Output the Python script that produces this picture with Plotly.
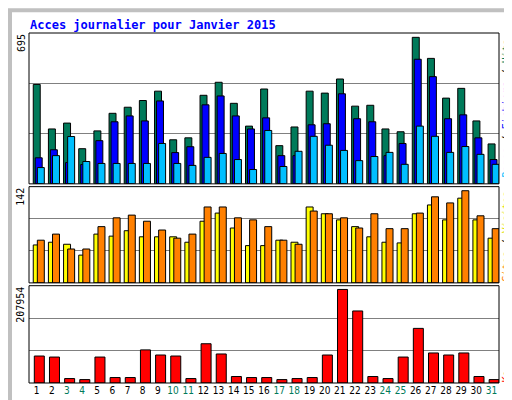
import plotly.graph_objects as go

days = list(range(1, 32))
weekend = {3, 4, 10, 11, 17, 18, 24, 25, 31}

hits = [458, 253, 280, 162, 244, 325, 353, 384, 427, 203, 212, 408, 468, 371, 266, 437,
        176, 262, 427, 418, 483, 358, 362, 253, 240, 675, 578, 395, 440, 290, 184]
files = [120, 157, 98, 89, 199, 286, 313, 290, 382, 144, 171, 364, 405, 313, 253, 304,
         130, 130, 272, 277, 415, 300, 286, 130, 186, 574, 494, 300, 318, 212, 112]
pages = [75, 130, 218, 103, 94, 94, 94, 94, 186, 94, 85, 122, 140, 112, 66, 246,
         80, 150, 219, 178, 154, 107, 126, 145, 90, 266, 219, 145, 172, 136, 90]
sites = [56, 60, 57, 41, 72, 69, 77, 68, 68, 68, 60, 91, 103, 81, 55, 55,
         63, 60, 112, 102, 93, 83, 68, 60, 59, 102, 115, 93, 125, 93, 66]
visits = [63, 72, 50, 50, 83, 96, 100, 91, 78, 66, 72, 112, 112, 96, 93, 83,
          63, 57, 106, 102, 96, 81, 102, 80, 80, 103, 127, 118, 136, 99, 80]
kb = [57640, 55450, 9490, 7300, 55450, 11670, 11670, 70780, 59830, 57640, 9490, 83910,
      62020, 13860, 11670, 11670, 7300, 9490, 11670, 59830, 199930, 153960, 13860,
      9490, 55450, 116740, 64210, 59830, 64210, 13860, 7300]

max_hits = 695
max_visits = 142
max_kb = 207954

fig = go.Figure()
line = dict(color='black', width=1)


def bars(y, color, axis, offset, width):
    fig.add_trace(go.Bar(x=days, y=y, yaxis=axis, offset=offset, width=width,
                         marker=dict(color=color, line=line), showlegend=False))


bars(hits, '#007a5a', 'y', -0.22, 0.46)
bars(files, '#0000ff', 'y', -0.09, 0.46)
bars(pages, '#00bfff', 'y', 0.05, 0.46)
bars(sites, '#ffff00', 'y2', -0.22, 0.46)
bars(visits, '#ff8000', 'y2', 0.05, 0.46)
bars(kb, '#ff0000', 'y3', -0.15, 0.66)

ticktext = [f"<span style='color:#007a5a'>{d}</span>" if d in weekend else str(d) for d in days]


def yax(maxv, dom):
    return dict(domain=dom, range=[0, maxv], tickvals=[maxv / 3, 2 * maxv / 3],
                showticklabels=False, showgrid=True, gridcolor='#808080', gridwidth=1,
                zeroline=False, ticks='', fixedrange=True)


fig.update_layout(
    width=512, height=400,
    margin=dict(l=21, r=21, t=25, b=22),
    paper_bgcolor='white', plot_bgcolor='white',
    barmode='overlay',
    font=dict(family='DejaVu Sans Mono', size=10, color='black'),
    xaxis=dict(range=[0.5, 31.5], tickvals=days, ticktext=ticktext, anchor='y3',
               showgrid=False, zeroline=False, ticks='', tickangle=0,
               tickfont=dict(size=10, family='DejaVu Sans Condensed')),
    yaxis=yax(max_hits, [0.569, 1]),
    yaxis2=yax(max_visits, [0.286, 0.561]),
    yaxis3=yax(max_kb, [0, 0.278]),
)

shapes = []
for ax in ['y', 'y2', 'y3']:
    shapes.append(dict(type='rect', xref='paper', yref=f'{ax} domain', x0=0, x1=1, y0=0, y1=1,
                       line=dict(color='black', width=1)))
# outer frame
shapes.append(dict(type='rect', xref='paper', yref='paper', x0=-19 / 470, x1=1 + 19 / 470,
                   y0=-20 / 353, y1=1 + 23 / 353, line=dict(color='#c0c0c0', width=4)))
fig.update_layout(shapes=shapes)

ann = [
    dict(text='<b>Acces journalier pour Janvier 2015</b>', x=0, y=1, xanchor='left', yanchor='bottom',
         font=dict(color='#0000ff', size=12)),
    dict(text=str(max_hits), x=-0.003, y=1, xanchor='right', yanchor='top', textangle=-90),
    dict(text=str(max_visits), x=-0.003, y=0.561, xanchor='right', yanchor='top', textangle=-90),
    dict(text=str(max_kb), x=-0.003, y=0.278, xanchor='right', yanchor='top', textangle=-90),
    dict(text="<span style='color:#00bfff'>Pages</span> / <span style='color:#0000ff'>Fichiers</span>"
              " / <span style='color:#007a5a'>Hits</span>",
         x=1.002, y=0.785, xanchor='left', yanchor='middle', textangle=-90),
    dict(text="<span style='color:#ff8000'>Sites</span> / <span style='color:#e0e000'>Visites</span>",
         x=1.002, y=0.42, xanchor='left', yanchor='middle', textangle=-90),
    dict(text="<span style='color:#ff0000'>Ko</span>",
         x=1.002, y=0.0, xanchor='left', yanchor='bottom', textangle=-90),
]
for a in ann:
    a.update(xref='paper', yref='paper', showarrow=False, borderpad=0)
fig.update_layout(annotations=ann)

fig.write_html("out.html")
